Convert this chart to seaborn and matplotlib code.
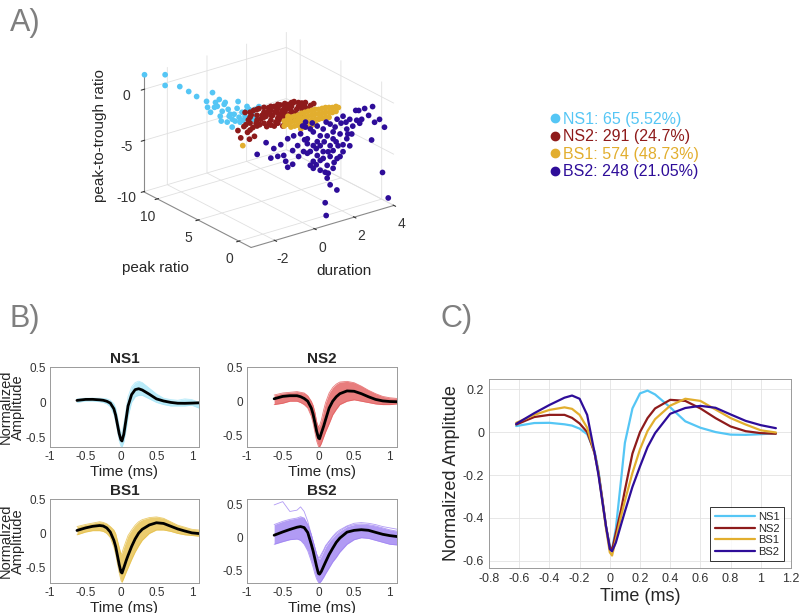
import numpy as np
import pandas as pd
import matplotlib
matplotlib.use("Agg")
import matplotlib.pyplot as plt
import seaborn as sns
from matplotlib.lines import Line2D

sns.set_style("white")
plt.rcParams['font.family'] = ['Liberation Sans', 'DejaVu Sans']
plt.rcParams['axes.unicode_minus'] = False

# ---------------- cluster info ----------------
clusters = ['NS1', 'NS2', 'BS1', 'BS2']
counts = [65, 291, 574, 248]
percents = ['5.52%', '24.7%', '48.73%', '21.05%']
dark_colors = ['#55C6F5', '#8E1B1B', '#E2AE2E', '#2E0D99']
trace_colors = ['#A8E6F8', '#E35D5D', '#E6C04A', '#9E82F2']

# ---------------- panel A : feature space (duration, peak ratio, peak-to-trough) ----------------
ns1_dur = [-3.15, -2.11, -2.81, -2.07, -1.22, -0.72, -0.42, -0.27, -0.52, -0.18, 0.07, 0.22, 0.42, 0.57,
           0.82, 0.92, 1.07, 1.22, 1.42, 1.57, 1.72, 0.57, -0.32, -0.03, 0.32, 0.47, 0.72, 0.97, 1.42,
           1.81, 0.17, 1.32, 1.92, -0.67, -0.08, 0.37, 0.67, 1.27, 1.62, 0.87, 0.02, 1.12, -1.62]
ns1_pr = [11.7, 11.7] + [10.0] * 41
ns1_ptt = [1.41, 0.82, 0.87, 0.34, -1.12, -1.88, -1.19, -2.24, -3.06, -2.67, -3.30, -2.52, -3.98, -4.36,
           -3.44, -4.37, -3.97, -4.44, -3.88, -4.45, -4.06, -5.13, -2.69, -3.72, -4.50, -3.82, -4.63,
           -4.88, -4.85, -4.88, -2.68, -3.54, -3.90, -2.49, -2.06, -3.28, -3.93, -3.99, -4.96, -2.80,
           -4.23, -4.77, -0.40]

ns2_dur = [-0.34, -0.34, -0.34, -0.34, 0.01, 0.01, 0.01, 0.01, 0.01, 0.36, 0.36, 0.36, 0.36,
           0.71, 0.71, 0.71, 0.71, 0.71, 1.05, 1.05, 1.05, 1.05, 1.05, 1.40, 1.40, 1.40, 1.40, 1.40,
           1.75, 1.75, 1.75, 1.75, 2.10, 2.10, 2.10, 2.10, 2.45, 2.45, 2.45, 2.80, 2.80,
           -0.64, -0.74, -0.24, 3.04, 2.05, -0.44, 2.40,
           -0.17, -0.17, -0.17, -0.17, 0.18, 0.18, 0.18, 0.18, 0.53, 0.53, 0.53, 0.53,
           0.88, 0.88, 0.88, 0.88, 0.88, 1.23, 1.23, 1.23, 1.23, 1.23, 1.58, 1.58, 1.58, 1.58,
           1.92, 1.92, 1.92, 2.27, 2.27, 2.62, 2.62]
ns2_pr = [6.2, 5.8, 6.1, 5.9, 6.0, 6.3, 5.7, 6.1, 5.9, 6.2, 5.8, 6.0, 6.1, 5.9, 6.0, 6.2, 5.8, 6.1,
          6.0, 5.9, 6.2, 5.8, 6.0, 6.1, 5.9, 6.0, 6.2, 5.8, 6.0, 6.1, 5.9, 6.0, 6.2, 5.8, 6.0, 6.1,
          5.9, 6.0, 6.2, 5.8, 6.0, 6.0, 6.1, 5.9, 6.0, 6.0, 6.1, 5.9] + [6.0] * 33
ns2_ptt = [-1.61, -2.18, -2.76, -3.43, -1.52, -2.10, -2.67, -3.25, -4.02, -1.63, -2.11, -2.59, -3.16,
           -1.63, -2.11, -2.59, -3.07, -3.55, -1.73, -2.21, -2.69, -3.17, -3.65, -1.83, -2.31, -2.79,
           -3.28, -3.76, -1.94, -2.42, -2.90, -3.38, -2.05, -2.53, -3.01, -3.49, -2.34, -2.83, -3.40,
           -2.55, -3.03, -3.84, -3.11, -4.16, -2.59, -1.83, -2.89, -2.13,
           -1.60, -2.09, -2.66, -3.34, -1.52, -2.10, -2.58, -3.15, -1.53, -2.01, -2.49, -3.07,
           -1.63, -2.02, -2.50, -2.98, -3.46, -1.64, -2.03, -2.51, -2.99, -3.47, -1.75, -2.14, -2.62,
           -3.10, -1.85, -2.23, -2.71, -2.05, -2.43, -2.25, -2.73]

bs1_dur = [0.73, 0.73, 1.07, 1.07, 1.07, 1.42, 1.42, 1.42, 1.77, 1.77, 1.77, 1.77, 2.12, 2.12, 2.12, 2.12,
           2.47, 2.47, 2.47, 2.81, 2.81, 2.81, 3.16, 3.16, 3.46, -1.36, 1.57, 2.32, 0.92,
           0.90, 0.90, 1.25, 1.25, 1.25, 1.60, 1.60, 1.60, 1.94, 1.94, 1.94, 1.94,
           2.29, 2.29, 2.29, 2.29, 2.64, 2.64, 2.64, 2.99, 2.99, 2.99, 3.34, 3.34]
bs1_pr = [4.0] * 53
bs1_ptt = [-2.16, -2.64, -1.97, -2.45, -2.93, -1.98, -2.46, -2.94, -1.89, -2.38, -2.86, -3.34, -1.90,
           -2.38, -2.87, -3.35, -2.01, -2.49, -2.97, -2.02, -2.50, -2.98, -2.22, -2.70, -2.39, -3.36,
           -3.41, -3.37, -1.79,
           -2.07, -2.55, -1.98, -2.46, -2.94, -1.89, -2.38, -2.86, -1.89, -2.38, -2.86, -3.34,
           -1.90, -2.38, -2.87, -3.35, -2.01, -2.49, -2.97, -2.12, -2.60, -3.08, -2.22, -2.70]

bs2_dur = [2.28, 2.73, 3.13, 2.93, 2.58, 3.23, 3.08, 3.63, 3.92, 1.33, 0.74, 0.79, 0.74, -2.69, -1.15,
           -0.90, -2.24, -1.85, -1.50, -1.15, -0.85, -0.50, -0.16, 0.14, -0.01, 0.34, 0.49, 0.84, 0.14,
           0.64, 0.99, 1.14, 1.49, 1.83, 1.98, 1.64, 1.34, 1.14, 0.89, 0.49, 0.14, -0.01, -0.35, -0.65,
           -0.90, -1.35, -1.65, -2.00, -0.40, -0.01, 0.34, 0.64, 0.99, 1.34, 1.64, 1.98, 2.13, 1.14, 0.84,
           0.49, 0.14, -0.16, 0.49, 0.89, 0.29, 1.14, 1.39, 1.83, 2.33, 2.43, 1.88, -0.25,
           -0.25, 0.09, 0.79, 1.24, 1.54, 1.79, -0.30, 0.34, 0.69, 1.29, 1.64, 0.29, 0.64, 0.99,
           1.19, 0.84, 0.99, -0.16, -0.60, -1.25, 1.49, 2.08, 2.48, 3.48, 3.73]
bs2_pr = [-1.0] * 97
bs2_ptt = [0.07, 0.00, -0.04, -0.79, -0.97, -1.63, -3.28, -6.77, -9.43, -7.17, -8.08, -9.36, -5.10,
           -1.39, -3.53, -3.38, -0.50, -1.30, -1.12, -0.74, -0.63, -0.63, -1.31, -2.15, -2.64, -3.23,
           -3.80, -4.48, -3.69, -3.02, -2.64, -2.06, -1.78, -1.50, -3.22, -3.60, -4.10, -4.94, -5.28,
           -4.76, -4.37, -3.99, -2.45, -1.70, -2.04, -2.26, -2.18, -2.15, 0.08, -0.43, -0.35, -0.81,
           -0.53, -0.25, -0.13, -0.63, -1.38, -1.38, -1.60, -1.39, -0.81, -1.79, -2.36, -3.18, -2.53,
           -3.21, -2.88, -2.44, -0.92, -0.02, -2.01, 0.37,
           -0.11, 0.09, -0.22, -0.96, -0.75, -0.80, -1.33, -1.88, -2.09, -2.43, -2.92, -4.11, -3.69,
           -3.70, -4.40, -5.73, -6.47, -2.73, -2.79, -2.89, -3.99, -2.12, -1.30, -1.49, -2.40]

# ---------------- panels B and C : waveforms ----------------
time_ms = [-0.62, -0.5, -0.4, -0.3, -0.25, -0.2, -0.15, -0.1, -0.075, -0.05, -0.025, 0.0, 0.015, 0.04,
           0.075, 0.1, 0.15, 0.2, 0.25, 0.3, 0.4, 0.5, 0.6, 0.7, 0.8, 0.9, 1.0, 1.1]

ns1_mean = [0.028, 0.042, 0.043, 0.036, 0.03, 0.016, -0.01, -0.09, -0.18, -0.31, -0.44, -0.53, -0.545,
            -0.45, -0.22, -0.05, 0.11, 0.18, 0.193, 0.175, 0.115, 0.05, 0.02, 0.0, -0.012, -0.013, -0.01, -0.006]
ns2_mean = [0.035, 0.07, 0.08, 0.08, 0.066, 0.04, 0.0, -0.1, -0.19, -0.31, -0.44, -0.535, -0.55,
            -0.47, -0.36, -0.27, -0.1, 0.0, 0.065, 0.11, 0.15, 0.145, 0.11, 0.065, 0.026, 0.004, -0.005, -0.008]
bs1_mean = [0.043, 0.08, 0.103, 0.115, 0.108, 0.08, 0.02, -0.1, -0.19, -0.32, -0.45, -0.56, -0.575,
            -0.5, -0.39, -0.32, -0.19, -0.08, 0.005, 0.06, 0.123, 0.155, 0.145, 0.105, 0.065, 0.035, 0.008, -0.002]
bs2_mean = [0.038, 0.088, 0.126, 0.16, 0.17, 0.155, 0.08, -0.1, -0.2, -0.32, -0.44, -0.545, -0.555,
            -0.515, -0.43, -0.37, -0.255, -0.16, -0.07, -0.005, 0.085, 0.112, 0.122, 0.113, 0.082, 0.052, 0.032, 0.018]

# spread of the individual waveforms (upper / lower edge of the bundle)
ns1_upper = [0.05, 0.06, 0.06, 0.06, 0.055, 0.05, 0.03, -0.02, -0.08, -0.2, -0.34, -0.44, -0.42, -0.3,
             -0.08, 0.08, 0.22, 0.28, 0.3, 0.28, 0.2, 0.12, 0.06, 0.04, 0.03, 0.05, 0.04, 0.0]
ns1_lower = [0.0, 0.02, 0.02, 0.01, 0.0, -0.02, -0.06, -0.17, -0.27, -0.4, -0.54, -0.62, -0.63, -0.56,
             -0.37, -0.2, 0.0, 0.08, 0.1, 0.1, 0.05, 0.0, -0.03, -0.05, -0.05, -0.05, -0.04, -0.08]
ns2_upper = [0.09, 0.12, 0.13, 0.14, 0.13, 0.12, 0.08, 0.0, -0.06, -0.16, -0.3, -0.38, -0.36, -0.28,
             -0.12, -0.02, 0.12, 0.2, 0.25, 0.28, 0.29, 0.27, 0.22, 0.16, 0.11, 0.07, 0.05, 0.04]
ns2_lower = [-0.05, -0.03, 0.0, 0.0, -0.02, -0.05, -0.1, -0.22, -0.32, -0.45, -0.58, -0.66, -0.67, -0.62,
             -0.52, -0.45, -0.33, -0.2, -0.12, -0.05, 0.0, 0.02, 0.0, -0.02, -0.04, -0.05, -0.05, -0.04]
bs1_upper = [0.1, 0.13, 0.15, 0.17, 0.16, 0.14, 0.1, 0.05, 0.0, -0.1, -0.2, -0.3, -0.28, -0.2,
             -0.1, -0.03, 0.05, 0.12, 0.17, 0.2, 0.23, 0.24, 0.22, 0.17, 0.12, 0.09, 0.06, 0.05]
bs1_lower = [-0.02, 0.02, 0.04, 0.04, 0.03, 0.0, -0.06, -0.2, -0.3, -0.44, -0.57, -0.68, -0.71, -0.65,
             -0.56, -0.5, -0.38, -0.27, -0.18, -0.1, 0.0, 0.05, 0.05, 0.03, 0.0, -0.02, -0.03, -0.04]
bs2_upper = [0.2, 0.25, 0.28, 0.3, 0.32, 0.3, 0.2, 0.05, -0.05, -0.15, -0.25, -0.33, -0.33, -0.28,
             -0.2, -0.14, -0.06, 0.0, 0.06, 0.1, 0.17, 0.2, 0.21, 0.2, 0.18, 0.15, 0.12, 0.1]
bs2_lower = [-0.1, -0.06, -0.03, -0.02, -0.04, -0.1, -0.2, -0.36, -0.45, -0.55, -0.63, -0.68, -0.69, -0.66,
             -0.6, -0.55, -0.46, -0.37, -0.3, -0.22, -0.1, -0.03, 0.0, -0.01, -0.04, -0.07, -0.1, -0.11]
bs2_outlier = [0.5, 0.55, 0.4, 0.42, 0.47, 0.4, 0.25, 0.05, -0.05, -0.15, -0.25, -0.3, -0.3, -0.25,
               -0.18, -0.12, -0.05, 0.02, 0.08, 0.12, 0.18, 0.22, 0.23, 0.22, 0.2, 0.17, 0.15, 0.13]

ylims_b = [(-0.63, 0.5), (-0.67, 0.5), (-0.72, 0.5), (-0.69, 0.59)]

W, H = 800, 613
fig = plt.figure(figsize=(8, 6.13), dpi=100)


def rect(left, top, right, bottom):
    return [left / W, 1 - bottom / H, (right - left) / W, (bottom - top) / H]


def fx(px):
    return px / W


def fy(py):
    return 1 - py / H


label_gray = '#7f7f7f'
fig.text(fx(10), fy(8), 'A)', fontsize=22, color=label_gray, va='top')
fig.text(fx(10), fy(304), 'B)', fontsize=22, color=label_gray, va='top')
fig.text(fx(440), fy(304), 'C)', fontsize=22, color=label_gray, va='top')

# ================= A =================
ax3 = fig.add_axes(rect(100, 6, 430, 281), projection='3d')
ax3.set_proj_type('ortho')
ax3.computed_zorder = False
scatter_sets = [(ns1_dur, ns1_pr, ns1_ptt), (ns2_dur, ns2_pr, ns2_ptt),
                (bs1_dur, bs1_pr, bs1_ptt), (bs2_dur, bs2_pr, bs2_ptt)]
for (d, p, q), col in zip(scatter_sets, dark_colors):
    ax3.scatter(d, p, q, s=17, c=col, depthshade=False, edgecolors='none')
ax3.set_xlim(-3.2, 4)
ax3.set_ylim(-1.5, 11.7)
ax3.set_zlim(-10, 1.5)
ax3.set_box_aspect((1.4, 1.4, 1))
ax3.view_init(elev=23, azim=-127)
ax3.set_xticks([-2, 0, 2, 4])
ax3.set_yticks([0, 5, 10])
ax3.set_zticks([-10, -5, 0])
for axis in (ax3.xaxis, ax3.yaxis, ax3.zaxis):
    axis.set_pane_color((1, 1, 1, 0))
    axis._axinfo['grid'].update(color=(0.88, 0.88, 0.88, 1), linewidth=0.6)
    axis.line.set_color('#8a8a8a')
    axis.line.set_linewidth(0.8)
ax3.tick_params(labelsize=10, colors='#333333', pad=-1)
fig.text(fx(100), fy(136), 'peak-to-trough ratio', fontsize=11, rotation=90, ha='center', va='center',
         color='#262626')
fig.text(fx(155), fy(268), 'peak ratio', fontsize=11, ha='center', va='center', color='#262626')
fig.text(fx(344), fy(271), 'duration', fontsize=11, ha='center', va='center', color='#262626')

handles = [Line2D([], [], marker='o', ls='none', ms=6, color=c) for c in dark_colors]
labels = [f'{n}: {c} ({p})' for n, c, p in zip(clusters, counts, percents)]
fig.legend(handles, labels, loc='upper left', bbox_to_anchor=(fx(541), fy(104)), frameon=False,
           fontsize=11.5, labelcolor=dark_colors, handletextpad=0.05, handlelength=0.8,
           labelspacing=0.15, borderpad=0)

# ================= B =================
means = [ns1_mean, ns2_mean, bs1_mean, bs2_mean]
uppers = [ns1_upper, ns2_upper, bs1_upper, bs2_upper]
lowers = [ns1_lower, ns2_lower, bs1_lower, bs2_lower]
b_rects = [rect(50, 367, 199, 447), rect(247, 367, 397, 447),
           rect(50, 499, 199, 583), rect(247, 499, 397, 583)]

for i, name in enumerate(clusters):
    ax = fig.add_axes(b_rects[i])
    col = trace_colors[i]
    ax.fill_between(time_ms, lowers[i], uppers[i], color=col, alpha=0.8, lw=0)
    ax.plot(time_ms, uppers[i], color=col, lw=0.6, alpha=0.8)
    ax.plot(time_ms, lowers[i], color=col, lw=0.6, alpha=0.8)
    if name == 'BS2':
        ax.plot(time_ms, bs2_outlier, color=col, lw=0.6, alpha=0.8)
    sns.lineplot(x=time_ms, y=means[i], color='black', lw=2, ax=ax)
    ax.set_xlim(-1, 1.1)
    ax.set_ylim(*ylims_b[i])
    ax.set_xticks([-1, -0.5, 0, 0.5, 1])
    ax.set_xticklabels(['-1', '-0.5', '0', '0.5', '1'])
    ax.set_yticks([-0.5, 0, 0.5])
    ax.set_yticklabels(['-0.5', '0', '0.5'])
    ax.tick_params(labelsize=8.5, direction='in', length=2, width=0.6, colors='#333333', pad=3)
    for sp in ax.spines.values():
        sp.set_color('#9a9a9a')
        sp.set_linewidth(0.7)
    ax.set_title(name, fontsize=11, fontweight='bold', pad=3)
    ax.set_xlabel('Time (ms)', fontsize=11, labelpad=1)
    if i in (0, 2):
        ax.set_ylabel('Normalized\nAmplitude', fontsize=10.5, linespacing=0.9)
        ax.yaxis.set_label_coords(-0.165, 0.5)

# ================= C =================
axc = fig.add_axes(rect(489, 379, 791, 568))
df_c = pd.DataFrame({
    'Time (ms)': time_ms * 4,
    'Normalized Amplitude': ns1_mean + ns2_mean + bs1_mean + bs2_mean,
    'cluster': [c for c in clusters for _ in time_ms],
})
sns.lineplot(data=df_c, x='Time (ms)', y='Normalized Amplitude', hue='cluster',
             palette=dict(zip(clusters, dark_colors)), lw=1.6, ax=axc)
axc.set_xlim(-0.8, 1.2)
axc.set_ylim(-0.633, 0.247)
axc.set_xticks(np.arange(-0.8, 1.21, 0.2))
axc.set_xticklabels(['-0.8', '-0.6', '-0.4', '-0.2', '0', '0.2', '0.4', '0.6', '0.8', '1', '1.2'])
axc.set_yticks([-0.6, -0.4, -0.2, 0, 0.2])
axc.set_yticklabels(['-0.6', '-0.4', '-0.2', '0', '0.2'])
axc.grid(True, color='#e3e3e3', lw=0.6)
axc.tick_params(labelsize=9, direction='in', length=2, colors='#333333')
for sp in axc.spines.values():
    sp.set_color('#9a9a9a')
    sp.set_linewidth(0.7)
axc.set_xlabel('Time (ms)', fontsize=13, labelpad=2)
axc.set_ylabel('Normalized Amplitude', fontsize=13, labelpad=2)
leg = axc.legend(loc='lower right', fontsize=8, frameon=True, fancybox=False, handlelength=3.6,
                 borderaxespad=0.6, labelspacing=0.15, handletextpad=0.3, title=None)
leg.get_frame().set_edgecolor('black')
leg.get_frame().set_linewidth(0.7)

fig.savefig('out.png', dpi=100)
